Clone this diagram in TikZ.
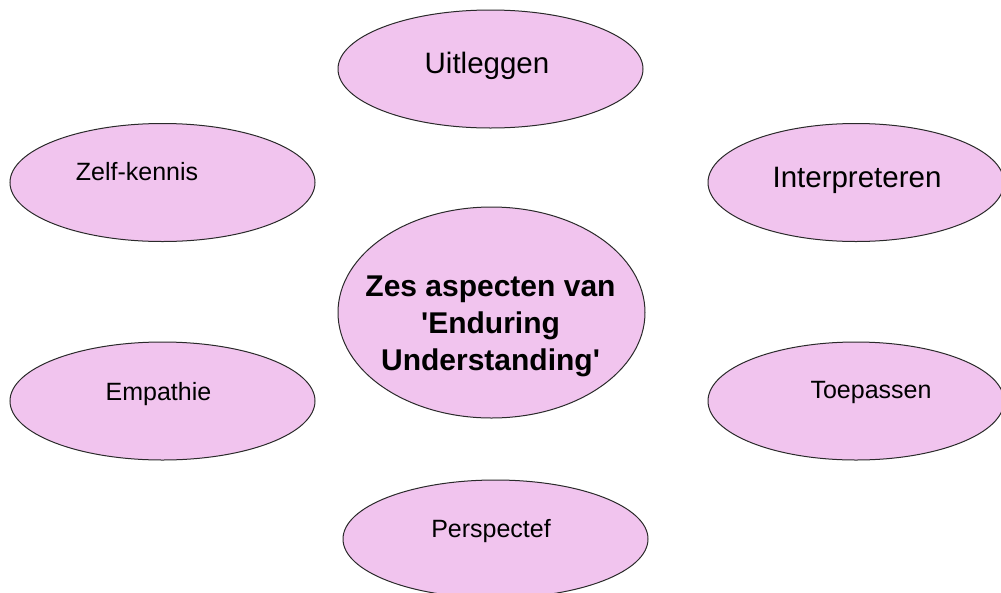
\documentclass[tikz,border=0pt]{standalone}
\usepackage{fontspec}
\setmainfont{Liberation Sans}
\usetikzlibrary{shapes.geometric}
\definecolor{pinkfill}{HTML}{F1C4EE}
\definecolor{edge}{HTML}{2A2A2A}
\tikzset{
  oval/.style={ellipse, draw=edge, fill=pinkfill, line width=1pt, inner sep=0pt},
  small/.style={ellipse, oval, minimum width=305pt, minimum height=118pt},
  smalltxt/.style={anchor=base, inner sep=0pt, font=\fontsize{25}{30}\selectfont},
  bigtxt/.style={anchor=base, inner sep=0pt, font=\fontsize{29.5}{36}\selectfont}
}
\begin{document}
\begin{tikzpicture}[x=1pt,y=-1pt]
\useasboundingbox (0,0) rectangle (1001,592);
\clip (0,0) rectangle (1001,592);
\fill[white] (0,0) rectangle (1001,592);
% ellipses
\node[small] (uit) at (490.5,69) {};
\node[small] (zelf) at (162.5,182.5) {};
\node[small, minimum width=296pt] (inter) at (856,182.5) {};
\node[oval, minimum width=307pt, minimum height=211pt] (core) at (491.5,312.5) {};
\node[small] (emp) at (162.5,401) {};
\node[small, minimum width=296pt] (toe) at (856,401) {};
\node[small] (pers) at (495.5,539) {};
% texts
\node[bigtxt] (uitT) at (487,73) {Uitleggen};
\node[smalltxt] (zelfT) at (137,180) {Zelf-kennis};
\node[bigtxt] (interT) at (857,187) {Interpreteren};
\node[smalltxt] (empT) at (158.5,400) {Empathie};
\node[smalltxt] (toeT) at (871,398) {Toepassen};
\node[smalltxt] (persT) at (491,537) {Perspectef};
\node[anchor=center, inner sep=0pt, align=center, font=\bfseries\fontsize{30}{37}\selectfont] (coreT) at (490.5,326) {Zes aspecten van\\\textquotesingle Enduring\\Understanding\textquotesingle};
\end{tikzpicture}
\end{document}
